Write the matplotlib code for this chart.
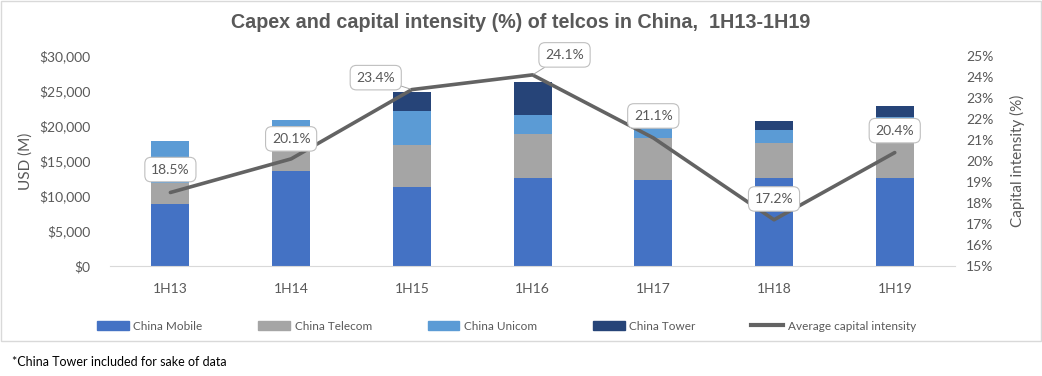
import matplotlib
matplotlib.use("Agg")
import matplotlib.pyplot as plt
from matplotlib.patches import Patch, Rectangle
from matplotlib.lines import Line2D
from matplotlib.ticker import FuncFormatter

# data (USD M and %)
periods = ["1H13", "1H14", "1H15", "1H16", "1H17", "1H18", "1H19"]
china_mobile = [8900, 13500, 11300, 12600, 12300, 12500, 12500]
china_telecom = [3000, 3300, 6000, 6300, 6000, 5100, 6800]
china_unicom = [6000, 4000, 4800, 2700, 1500, 1800, 2000]
china_tower = [0, 0, 2800, 4700, 0, 1300, 1600]
intensity = [18.5, 20.1, 23.4, 24.1, 21.1, 17.2, 20.4]

grey_txt = "#595959"
plt.rcParams["font.family"] = ["Lato", "DejaVu Sans"]

fig = plt.figure(figsize=(10.42, 3.76), dpi=100)
ax = fig.add_axes([0.1056, 0.2926, 0.811, 0.5585])
ax2 = ax.twinx()

x = list(range(len(periods)))
w = 0.315
series = [
    ("China Mobile", china_mobile, "#4472C4"),
    ("China Telecom", china_telecom, "#A5A5A5"),
    ("China Unicom", china_unicom, "#5B9BD5"),
    ("China Tower", china_tower, "#264478"),
]
bottom = [0] * len(periods)
for name, vals, col in series:
    ax.bar(x, vals, w, bottom=bottom, color=col, label=name, zorder=2)
    bottom = [b + v for b, v in zip(bottom, vals)]

line_col = "#636363"
ax2.plot(x, intensity, color=line_col, lw=2.6, solid_capstyle="round", zorder=3)

# label offsets in points (a couple sit off to the side with leader lines)
offsets = [(0, 16.5), (0, 14.4), (-26, 8.6), (23, 14.4), (0, 15.8), (0, 15), (0, 15.8)]
for xi, v, off in zip(x, intensity, offsets):
    leader = off[0] != 0
    ax2.annotate(f"{v:.1f}%", (xi, v), xytext=off, textcoords="offset points",
                 ha="center", va="center", fontsize=10, color=grey_txt, zorder=5,
                 bbox=dict(boxstyle="round,pad=0.45,rounding_size=0.45", fc="white",
                           ec="#BFBFBF", lw=0.8),
                 arrowprops=dict(arrowstyle="-", color="#A6A6A6", lw=0.7,
                                 shrinkA=0, shrinkB=1) if leader else None)

ax.set_xlim(-0.5, len(periods) - 0.5)
ax.set_ylim(0, 30000)
ax.set_yticks(range(0, 30001, 5000))
ax.yaxis.set_major_formatter(FuncFormatter(lambda v, p: f"${v:,.0f}"))
ax2.set_ylim(15, 25)
ax2.set_yticks(range(15, 26))
ax2.yaxis.set_major_formatter(FuncFormatter(lambda v, p: f"{v:.0f}%"))
ax.set_xticks(x)
ax.set_xticklabels(periods)

for a in (ax, ax2):
    for s in a.spines.values():
        s.set_visible(False)
    a.tick_params(length=0, labelsize=10, labelcolor=grey_txt)
ax.spines["bottom"].set_visible(True)
ax.spines["bottom"].set_color("#D9D9D9")
ax.tick_params(axis="x", pad=12)
ax.tick_params(axis="y", pad=14)
ax2.tick_params(axis="y", pad=8)

ax.set_ylabel("USD (M)", fontsize=11, color=grey_txt)
ax.yaxis.set_label_coords(-0.091, 0.5)
ax2.set_ylabel("Capital intensity (%)", fontsize=11, color=grey_txt)
ax2.yaxis.set_label_coords(1.065, 0.5)

fig.text(0.5, 1 - 22 / 376, "Capex and capital intensity (%) of telcos in China,  1H13-1H19",
         ha="center", va="center", fontsize=14.2, fontweight="bold", color=grey_txt,
         family=["Liberation Sans", "DejaVu Sans"])

handles = [Patch(color=col) for _, _, col in series]
handles.append(Line2D([], [], color=line_col, lw=3))
labels = [name for name, _, _ in series] + ["Average capital intensity"]
fig.legend(handles, labels, loc="center", bbox_to_anchor=(0.486, 1 - 326 / 376), ncol=5,
           frameon=False, fontsize=8.5, labelcolor=grey_txt, handlelength=2.7,
           handleheight=0.8, handletextpad=0.4, columnspacing=4.7)

fig.patches.append(Rectangle((0.001, 1 - 341 / 376), 0.998, 340 / 376, transform=fig.transFigure,
                             fill=False, ec="#D9D9D9", lw=1))
fig.text(12 / 1042, 1 - 362 / 376, "*China Tower included for sake of data",
         ha="left", va="center", fontsize=9, color="black")

fig.savefig("out.png", dpi=100)
